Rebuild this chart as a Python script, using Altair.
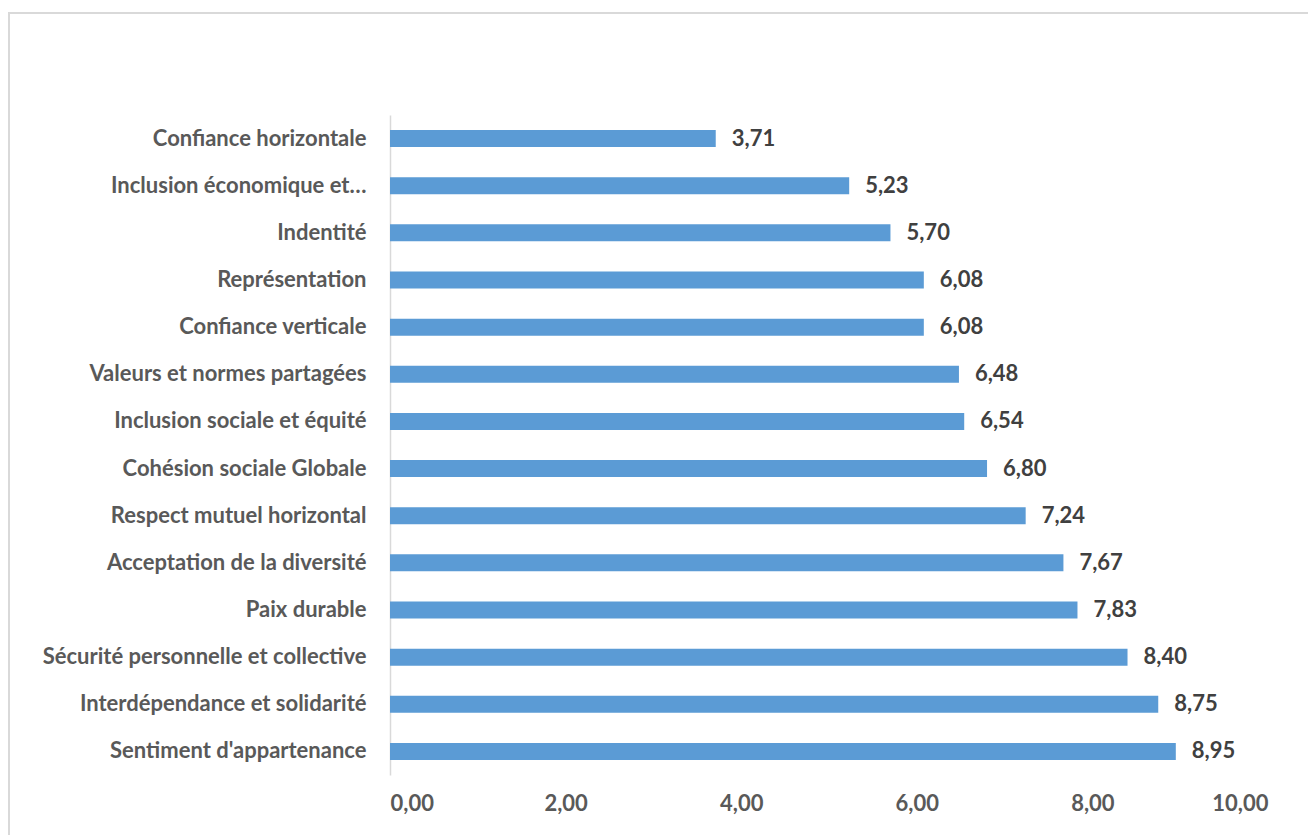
import altair as alt
import pandas as pd

categories = [
    "Confiance horizontale",
    "Inclusion économique et…",
    "Indentité",
    "Représentation",
    "Confiance verticale",
    "Valeurs et normes partagées",
    "Inclusion sociale et équité",
    "Cohésion sociale Globale",
    "Respect mutuel horizontal",
    "Acceptation de la diversité",
    "Paix durable",
    "Sécurité personnelle et collective",
    "Interdépendance et solidarité",
    "Sentiment d'appartenance",
]
values = [3.71, 5.23, 5.70, 6.08, 6.08, 6.48, 6.54, 6.80, 7.24, 7.67, 7.83, 8.40, 8.75, 8.95]
labels = [f"{v:.2f}".replace(".", ",") for v in values]

df = pd.DataFrame({"cat": categories, "val": values, "lab": labels})

FONT = "Lato"
FS = 22
W, H = 878, 660

y_enc = alt.Y(
    "cat:N",
    sort=categories,
    scale=alt.Scale(paddingInner=0.64, paddingOuter=0.32),
    axis=alt.Axis(
        title=None, ticks=False, domainColor="#d9d9d9", domainWidth=1.5,
        labelFont=FONT, labelFontSize=FS, labelFontWeight="bold",
        labelColor="#595959", labelPadding=24, labelLimit=400,
    ),
)
x_enc = alt.X(
    "val:Q",
    scale=alt.Scale(domain=[0, 10], nice=False),
    axis=alt.Axis(
        title=None, values=[0, 2, 4, 6, 8, 10], labelExpr="replace(format(datum.value, '.2f'), '.', ',')",
        grid=False, ticks=False, domain=False,
        labelFont=FONT, labelFontSize=FS, labelFontWeight="bold",
        labelColor="#595959", labelPadding=18,
    ),
)

bars = alt.Chart(df).mark_bar(color="#5B9BD5").encode(x=x_enc, y=y_enc)
text = alt.Chart(df).mark_text(
    align="left", baseline="middle", dx=16, font=FONT, fontSize=FS,
    fontWeight="bold", color="#404040",
).encode(x="val:Q", y=alt.Y("cat:N", sort=categories), text="lab:N")

frame = alt.Chart(df).mark_rect(
    fill=None, stroke="#d9d9d9", strokeWidth=1.5
).encode(
    x=alt.value(-381), x2=alt.value(W + 60), y=alt.value(-102), y2=alt.value(H + 80)
)

chart = alt.layer(frame, bars, text).properties(
    width=W, height=H,
    background="white",
    autosize=alt.AutoSizeParams(type="none"),
    padding={"left": 382, "top": 107, "right": 40, "bottom": 60},
).configure_view(stroke=None, strokeWidth=0)

chart.save("out.html", embed_options={"renderer": "svg", "actions": False})
